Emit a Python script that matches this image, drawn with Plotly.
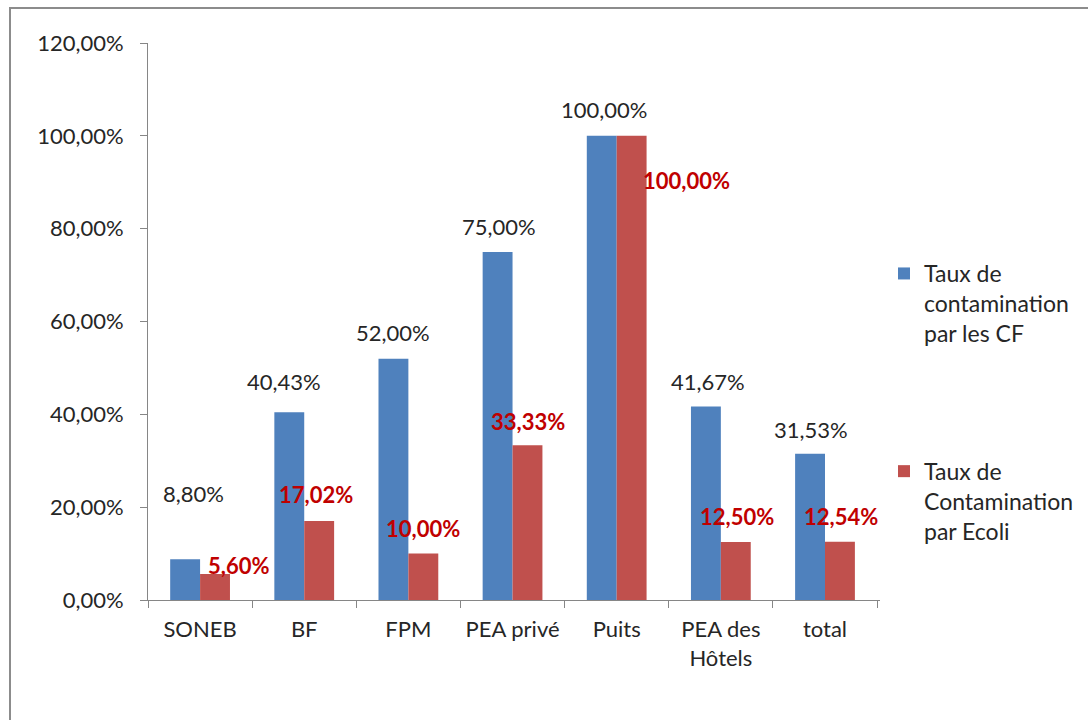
import plotly.graph_objects as go

categories = ["SONEB", "BF", "FPM", "PEA privé", "Puits", "PEA des<br>Hôtels", "total"]
cf_values = [0.0880, 0.4043, 0.5200, 0.7500, 1.0000, 0.4167, 0.3153]
ecoli_values = [0.0560, 0.1702, 0.1000, 0.3333, 1.0000, 0.1250, 0.1254]
series_names = ["Taux de<br>contamination<br>par les CF", "Taux de<br>Contamination<br>par Ecoli"]

# label placement offsets (pixels) relative to category centre / bar top
cf_label_dx = [-7, -20, -15, -14, -13, -13, -14]
cf_label_dy = [66, 31, 26, 25, 26, 25, 24]
ec_label_dx = [38, 12, 15, 15, 70, 16, 16]
ec_label_dy = [9, 27, 25, 24, -45, 25, 25]

BLUE = "#4F81BD"
RED = "#C0504D"
FONT = "Lato, Open Sans, sans-serif"
TXT = "#262626"
FS = 22

fig = go.Figure()
fig.add_trace(go.Bar(x=categories, y=cf_values, name=series_names[0], marker_color=BLUE,
                     marker_line_width=0, legendgroup="a"))
fig.add_trace(go.Bar(x=categories, y=ecoli_values, name=series_names[1], marker_color=RED,
                     marker_line_width=0, legendgroup="b"))

def fmt(v):
    return f"{v*100:.2f}".replace(".", ",") + "%"

ann = []
for c, v, dx, dy in zip(categories, cf_values, cf_label_dx, cf_label_dy):
    ann.append(dict(x=c, y=v, xref="x", yref="y", text=fmt(v), showarrow=False,
                    xshift=dx, yshift=dy, font=dict(size=FS, color=TXT, family=FONT)))
for c, v, dx, dy in zip(categories, ecoli_values, ec_label_dx, ec_label_dy):
    ann.append(dict(x=c, y=v, xref="x", yref="y", text="<b>" + fmt(v) + "</b>", showarrow=False,
                    xshift=dx, yshift=dy, font=dict(size=FS, color="#C00000", family=FONT)))

L, R, T, B = 148, 208, 43, 120
pw, ph = 1088 - L - R, 720 - T - B

fig.update_layout(
    width=1088, height=720,
    margin=dict(l=L, r=R, t=T, b=B, pad=0, autoexpand=False),
    paper_bgcolor="white", plot_bgcolor="white",
    separators=", ",
    barmode="group", bargap=0.426, bargroupgap=0,
    font=dict(family=FONT, size=FS, color=TXT),
    annotations=ann,
    showlegend=True,
    legend=dict(x=(884 - L) / pw, y=(600 - 252) / ph, xanchor="left", yanchor="top",
                valign="top", tracegroupgap=105, font=dict(size=23, color=TXT),
                itemwidth=30, bgcolor="rgba(0,0,0,0)"),
    xaxis=dict(showline=True, linecolor="#868686", linewidth=1, ticks="outside",
               tickson="boundaries", ticklen=7, tickcolor="#868686", showgrid=False,
               ticklabelstandoff=10,
               tickfont=dict(size=FS, color=TXT), fixedrange=True),
    yaxis=dict(range=[0, 1.2], dtick=0.2, tickformat=".2%", showline=True,
               linecolor="#868686", linewidth=1, ticks="outside", ticklen=7,
               tickcolor="#868686", showgrid=False, zeroline=False,
               ticklabelstandoff=12,
               tickfont=dict(size=FS, color=TXT), fixedrange=True),
    shapes=[dict(type="rect", xref="paper", yref="paper",
                 x0=(10 - L) / pw, x1=(1200 - L) / pw,
                 y0=(600 - 800) / ph, y1=(600 - 8) / ph,
                 line=dict(color="#8C8C8C", width=2), fillcolor="rgba(0,0,0,0)", layer="below")],
)

fig.write_html("out.html", config={"displayModeBar": False},
               post_script="document.body.style.margin='0';document.body.style.overflow='hidden';")
